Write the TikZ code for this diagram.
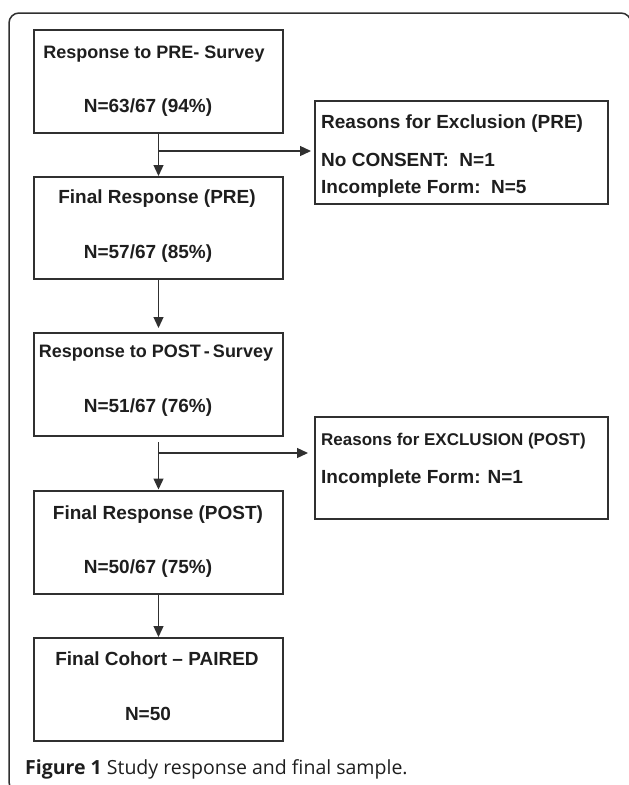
\documentclass[tikz,border=0pt]{standalone}
\usepackage{fontspec}
\setmainfont{Liberation Sans}
\newfontfamily\capfont{Open Sans}
\usetikzlibrary{arrows.meta,calc}
\definecolor{ln}{HTML}{303030}
\definecolor{tx}{HTML}{1E1E1E}
\tikzset{
  boxst/.style={draw=ln, line width=1.2pt, inner sep=0pt, outer sep=0pt},
  txt/.style={font=\bfseries\fontsize{19}{22}\selectfont, anchor=base, inner sep=0pt, text=tx},
  txtn/.style={txt, font=\bfseries\fontsize{18}{22}\selectfont},
  ltxt/.style={txt, anchor=base west},
  arr/.style={draw=ln, line width=1.3pt, -{Triangle[length=11pt,width=10pt]}},
  frame/.style={draw=ln, line width=1.5pt, rounded corners=10pt},
}
\begin{document}
\begin{tikzpicture}[x=1pt,y=-1pt]
\useasboundingbox (0,0) rectangle (629,785);
\begin{scope}
  \clip (0,0) rectangle (629,785);
  \draw[frame] (9,13) rectangle (631,792);
\end{scope}

% main boxes
\node[boxst, minimum width=249pt, minimum height=103pt] (b1) at (158.5,81.5) {};
\node[boxst, minimum width=249pt, minimum height=102pt] (b2) at (158.5,228) {};
\node[boxst, minimum width=249pt, minimum height=103pt] (b3) at (158.5,384.5) {};
\node[boxst, minimum width=249pt, minimum height=103pt] (b4) at (158.5,542.5) {};
\node[boxst, minimum width=249pt, minimum height=103pt] (b5) at (158.5,689.5) {};
% exclusion boxes
\node[boxst, minimum width=293pt, minimum height=103pt] (e1) at (461.5,152.5) {};
\node[boxst, minimum width=293pt, minimum height=102pt] (e2) at (461.5,468) {};

% texts
\node[txtn] (t1a) at (154,58) {Response to PRE- Survey};
\node[txt] (t1b) at (148,112) {N=63/67 (94\%)};
\node[txt] (t2a) at (157,203) {Final Response (PRE)};
\node[txt] (t2b) at (148,258) {N=57/67 (85\%)};
\node[txtn] (t3a) at (156,357) {Response to POST\,-\,Survey};
\node[txt] (t3b) at (148,412) {N=51/67 (76\%)};
\node[txt] (t4a) at (158,519) {Final Response (POST)};
\node[txt] (t4b) at (148,573) {N=50/67 (75\%)};
\node[txt] (t5a) at (157,665) {Final Cohort – PAIRED};
\node[txt] (t5b) at (148,720) {N=50};

\node[ltxt] (e1a) at (321,128) {Reasons for Exclusion (PRE)};
\node[ltxt] (e1b) at (321,166) {No CONSENT:\ \ N=1};
\node[ltxt] (e1c) at (321,193) {Incomplete Form:\ \ N=5};
\node[ltxt, font=\bfseries\fontsize{17}{20}\selectfont] (e2a) at (321,445) {Reasons for EXCLUSION (POST)};
\node[ltxt] (e2b) at (321,483) {Incomplete Form: N=1};

% connectors
\coordinate (j1) at (158.5,151);
\draw[arr, shorten >=1pt] (b1.south) -- (b2.north);
\draw[arr, shorten >=4pt] (j1) -- (j1 -| e1.west);
\draw[arr, shorten >=5pt] (b2.south) -- (b3.north);
\coordinate (j2s) at (158.5,442);
\coordinate (j2) at (158.5,453);
\draw[arr, shorten >=1.5pt] (j2s) -- (j2s |- b4.north);
\draw[arr, shorten >=7pt] (j2) -- (j2 -| e2.west);
\draw[arr, shorten >=1pt] (b4.south) -- (b5.north);

% caption
\node[anchor=base west, inner sep=0pt, text=tx, font=\capfont\fontsize{19.5}{24}\selectfont] (cap) at (25,774) {\textbf{Figure 1} Study response and final sample.};
\end{tikzpicture}
\end{document}
